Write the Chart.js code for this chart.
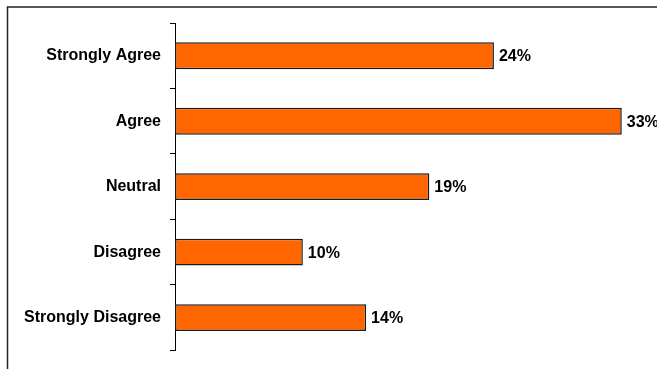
<!DOCTYPE html>
<html>
<head>
<meta charset="utf-8">
<script src="https://cdn.jsdelivr.net/npm/chart.js@4/dist/chart.umd.min.js"></script>
<style>
  html, body { margin: 0; padding: 0; background: #fff; }
  #wrap { width: 657px; height: 369px; }
</style>
</head>
<body>
<div id="wrap"><canvas id="grafico" width="657" height="369"></canvas></div>
<script>
const categorias = ['Strongly Agree', 'Agree', 'Neutral', 'Disagree', 'Strongly Disagree'];
const percentuais = [23.7, 33.2, 18.9, 9.5, 14.2];

// moldura externa (só topo e esquerda aparecem no recorte)
const moldura = {
    id: 'moldura',
    beforeDraw(chart) {
        const c = chart.ctx;
        c.save();
        c.strokeStyle = '#222';
        c.lineWidth = 1.5;
        c.strokeRect(7.5, 7, 700, 400);
        c.restore();
    }
};

// rótulos de valor no fim de cada barra
const rotulos = {
    id: 'rotulos',
    afterDatasetsDraw(chart) {
        const c = chart.ctx;
        const meta = chart.getDatasetMeta(0);
        c.save();
        c.fillStyle = '#000';
        c.font = 'bold 16px "Liberation Sans", Arial, sans-serif';
        c.textAlign = 'left';
        c.textBaseline = 'middle';
        meta.data.forEach((bar, i) => {
            c.fillText(Math.round(percentuais[i]) + '%', bar.x + 5, bar.y + 1);
        });
        c.restore();
    }
};

new Chart(document.getElementById('grafico').getContext('2d'), {
    type: 'bar',
    data: {
        labels: categorias,
        datasets: [{
            data: percentuais,
            backgroundColor: '#FF6600',
            borderColor: '#1a1a1a',
            borderWidth: 1.5,
            borderSkipped: false,
            barPercentage: 0.41,
            categoryPercentage: 1
        }]
    },
    options: {
        indexAxis: 'y',
        responsive: false,
        animation: false,
        layout: { padding: { top: 23, bottom: 15, left: 0, right: 11 } },
        plugins: {
            legend: { display: false },
            tooltip: { enabled: false }
        },
        scales: {
            x: {
                display: false,
                min: 0,
                max: 35
            },
            y: {
                afterFit: s => { s.width = 175; },
                border: { display: true, color: '#000', width: 1 },
                grid: {
                    drawOnChartArea: false,
                    drawTicks: true,
                    tickLength: 5,
                    color: '#000',
                    offset: true
                },
                ticks: {
                    color: '#000',
                    padding: 9,
                    font: { family: '"Liberation Sans", Arial, sans-serif', size: 16, weight: 'bold' }
                }
            }
        }
    },
    plugins: [moldura, rotulos]
});
</script>
</body>
</html>
